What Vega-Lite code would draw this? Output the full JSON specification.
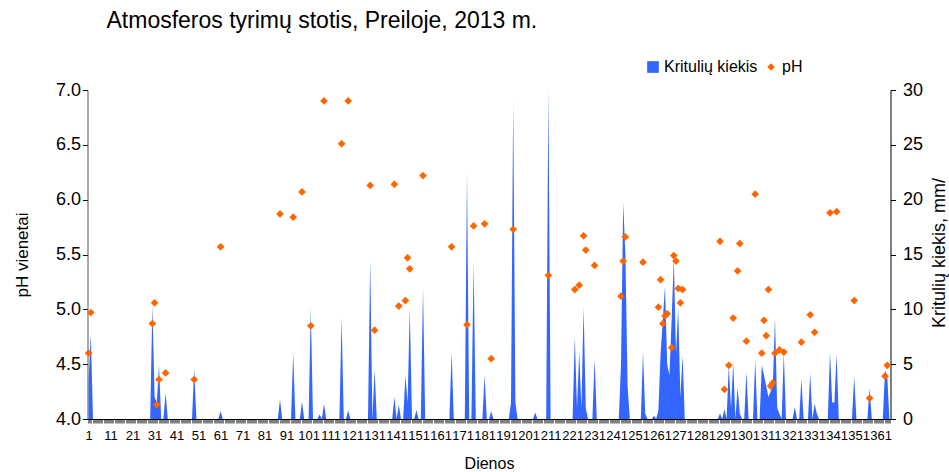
{
  "$schema": "https://vega.github.io/schema/vega-lite/v6.json",
  "width": 803,
  "height": 329,
  "autosize": {"type": "none"},
  "padding": {"left": 87.5, "top": 90, "right": 58.5, "bottom": 53},
  "background": "white",
  "title": {"text": "Atmosferos tyrimų stotis, Preiloje, 2013 m.", "anchor": "start", "frame": "group", "dx": 19, "offset": 8, "baseline": "alphabetic", "font": "Liberation Sans", "fontSize": 23, "fontWeight": "normal", "color": "black"},
  "config": {
    "view": {"stroke": null},
    "axis": {"grid": false, "labelFont": "Liberation Sans", "titleFont": "Liberation Sans", "labelColor": "black", "titleColor": "black", "titleFontWeight": "normal", "domainColor": "black", "tickColor": "black"},
    "legend": {"labelFont": "Liberation Sans", "labelFontSize": 16, "labelColor": "black", "columnPadding": 5, "labelOffset": 3, "symbolStrokeWidth": 0}
  },
  "datasets": {
    "rain": [
      {"d":1,"p":3.5},{"d":2,"p":7.7},{"d":3,"p":0},
      {"d":29,"p":0},{"d":30,"p":10.4},{"d":31,"p":2},{"d":32,"p":1.5},{"d":33,"p":4.9},{"d":34,"p":0},
      {"d":35,"p":0},{"d":36,"p":2.4},{"d":37,"p":0},
      {"d":48,"p":0},{"d":49,"p":4.6},{"d":50,"p":0},
      {"d":60,"p":0},{"d":61,"p":0.7},{"d":62,"p":0},
      {"d":87,"p":0},{"d":88,"p":1.8},{"d":89,"p":0},
      {"d":93,"p":0},{"d":94,"p":6.0},{"d":95,"p":0},
      {"d":97,"p":0},{"d":98,"p":1.6},{"d":99,"p":0},
      {"d":101,"p":0},{"d":102,"p":10.1},{"d":103,"p":0},
      {"d":105,"p":0},{"d":106,"p":0.4},{"d":107,"p":0},{"d":108,"p":1.4},{"d":109,"p":0},
      {"d":115,"p":0},{"d":116,"p":9.2},{"d":117,"p":0},
      {"d":118,"p":0},{"d":119,"p":0.8},{"d":120,"p":0},
      {"d":128,"p":0},{"d":129,"p":14.5},{"d":130,"p":0},{"d":131,"p":4.5},{"d":132,"p":0},
      {"d":139,"p":0},{"d":140,"p":2.0},{"d":141,"p":0},{"d":142,"p":1.3},{"d":143,"p":0},
      {"d":144,"p":0},{"d":145,"p":4.0},{"d":146,"p":1.5},{"d":147,"p":10.1},{"d":148,"p":0},
      {"d":149,"p":0},{"d":150,"p":0.8},{"d":151,"p":0},
      {"d":152,"p":0},{"d":153,"p":11.9},{"d":154,"p":0},
      {"d":165,"p":0},{"d":166,"p":6.1},{"d":167,"p":0},
      {"d":172,"p":0},{"d":173,"p":22.4},{"d":174,"p":0},
      {"d":175,"p":0},{"d":176,"p":14.2},{"d":177,"p":0},
      {"d":180,"p":0},{"d":181,"p":4.0},{"d":182,"p":0},
      {"d":183,"p":0},{"d":184,"p":0.7},{"d":185,"p":0},
      {"d":192,"p":0},{"d":193,"p":1.5},{"d":194,"p":28.9},{"d":195,"p":1.5},{"d":196,"p":0},
      {"d":203,"p":0},{"d":204,"p":0.6},{"d":205,"p":0},
      {"d":209,"p":0},{"d":210,"p":30},{"d":211,"p":0},
      {"d":221,"p":0},{"d":222,"p":7.5},{"d":223,"p":1},{"d":224,"p":6.1},{"d":225,"p":1},{"d":226,"p":10.2},{"d":227,"p":1},{"d":228,"p":0},
      {"d":230,"p":0},{"d":231,"p":5.5},{"d":232,"p":0},
      {"d":242,"p":0},{"d":243,"p":5},{"d":244,"p":19.7},{"d":245,"p":15},{"d":246,"p":3},{"d":247,"p":0},
      {"d":252,"p":0},{"d":253,"p":6.1},{"d":254,"p":0.5},{"d":255,"p":0},
      {"d":257,"p":0},{"d":258,"p":0.3},{"d":259,"p":0},{"d":260,"p":0.8},{"d":261,"p":6},{"d":262,"p":9},{"d":263,"p":12.1},{"d":264,"p":5},{"d":265,"p":4},{"d":266,"p":9},{"d":267,"p":14.6},{"d":268,"p":6},{"d":269,"p":10.1},{"d":270,"p":2},{"d":271,"p":5.8},{"d":272,"p":0},
      {"d":287,"p":0},{"d":288,"p":0.5},{"d":289,"p":0},{"d":290,"p":0.9},{"d":291,"p":0},{"d":292,"p":4.9},{"d":293,"p":1},{"d":294,"p":5.1},{"d":295,"p":0},{"d":296,"p":2.9},{"d":297,"p":0.5},{"d":298,"p":0},
      {"d":299,"p":0},{"d":300,"p":4.3},{"d":301,"p":0},
      {"d":303,"p":0},{"d":304,"p":5.4},{"d":305,"p":0},
      {"d":306,"p":0},{"d":307,"p":4.9},{"d":308,"p":4.0},{"d":309,"p":3.0},{"d":310,"p":2.0},{"d":311,"p":2.5},{"d":312,"p":3.0},{"d":313,"p":9.2},{"d":314,"p":1.0},{"d":315,"p":0.5},{"d":316,"p":0},{"d":317,"p":6.0},{"d":318,"p":0},
      {"d":321,"p":0},{"d":322,"p":1.1},{"d":323,"p":0},
      {"d":324,"p":0},{"d":325,"p":3.7},{"d":326,"p":0},
      {"d":328,"p":0},{"d":329,"p":4.2},{"d":330,"p":0},{"d":331,"p":1.4},{"d":332,"p":0.5},{"d":333,"p":0},
      {"d":337,"p":0},{"d":338,"p":6.1},{"d":339,"p":1.5},{"d":340,"p":1.5},{"d":341,"p":5.9},{"d":342,"p":0},
      {"d":348,"p":0},{"d":349,"p":3.9},{"d":350,"p":0},
      {"d":355,"p":0},{"d":356,"p":2.8},{"d":357,"p":0},
      {"d":362,"p":0},{"d":363,"p":4.4},{"d":364,"p":4.0},{"d":365,"p":0}
    ],
    "ph": [
      {"d":1,"ph":4.60},{"d":2,"ph":4.97},{"d":30,"ph":4.87},{"d":31,"ph":5.06},{"d":32,"ph":4.13},{"d":33,"ph":4.36},{"d":36,"ph":4.42},{"d":49,"ph":4.36},{"d":61,"ph":5.57},{"d":88,"ph":5.87},{"d":94,"ph":5.84},{"d":98,"ph":6.07},{"d":102,"ph":4.85},{"d":108,"ph":6.90},{"d":116,"ph":6.51},{"d":119,"ph":6.90},{"d":129,"ph":6.13},{"d":131,"ph":4.81},{"d":140,"ph":6.14},{"d":142,"ph":5.03},{"d":145,"ph":5.08},{"d":146,"ph":5.47},{"d":147,"ph":5.37},{"d":153,"ph":6.22},{"d":166,"ph":5.57},{"d":173,"ph":4.86},{"d":176,"ph":5.76},{"d":181,"ph":5.78},{"d":184,"ph":4.55},{"d":194,"ph":5.73},{"d":210,"ph":5.31},{"d":222,"ph":5.18},{"d":224,"ph":5.22},{"d":226,"ph":5.67},{"d":227,"ph":5.54},{"d":231,"ph":5.40},{"d":243,"ph":5.12},{"d":244,"ph":5.44},{"d":245,"ph":5.66},{"d":253,"ph":5.43},{"d":260,"ph":5.02},{"d":261,"ph":5.27},{"d":262,"ph":4.87},{"d":263,"ph":4.94},{"d":264,"ph":4.96},{"d":266,"ph":4.65},{"d":267,"ph":5.49},{"d":268,"ph":5.44},{"d":269,"ph":5.19},{"d":270,"ph":5.06},{"d":271,"ph":5.18},{"d":288,"ph":5.62},{"d":290,"ph":4.27},{"d":292,"ph":4.49},{"d":294,"ph":4.92},{"d":296,"ph":5.35},{"d":297,"ph":5.60},{"d":300,"ph":4.71},{"d":304,"ph":6.05},{"d":307,"ph":4.60},{"d":308,"ph":4.90},{"d":309,"ph":4.76},{"d":310,"ph":5.18},{"d":311,"ph":4.30},{"d":312,"ph":4.33},{"d":313,"ph":4.60},{"d":315,"ph":4.63},{"d":317,"ph":4.61},{"d":325,"ph":4.70},{"d":329,"ph":4.95},{"d":331,"ph":4.79},{"d":338,"ph":5.88},{"d":341,"ph":5.89},{"d":349,"ph":5.08},{"d":356,"ph":4.19},{"d":363,"ph":4.39},{"d":364,"ph":4.49}
    ]
  },
  "encoding": {
    "x": {"field": "d", "type": "quantitative", "scale": {"domain": [0.5, 365.5], "nice": false, "zero": false},
      "axis": {"tickCount": 365, "labelExpr": "(datum.value - 1) % 10 == 0 ? datum.label : ''", "labelOverlap": false, "labelFlush": false, "labelFontSize": 13, "tickSize": 4, "labelPadding": 6, "title": "Dienos", "titleFontSize": 16, "titleBaseline": "alphabetic", "titleY": 49, "titleX": 401.5}}
  },
  "layer": [
    {
      "data": {"name": "rain"},
      "mark": {"type": "area", "color": "#3366FF", "interpolate": "linear"},
      "encoding": {
        "y": {"field": "p", "type": "quantitative", "scale": {"domain": [0, 30], "nice": false},
          "axis": {"orient": "right", "values": [0, 5, 10, 15, 20, 25, 30], "labelFontSize": 18, "tickSize": 5, "labelPadding": 7, "title": "Kritulių kiekis, mm/", "titleFontSize": 18, "titleAngle": 270, "titleX": 54, "titleY": 162.5, "titleBaseline": "alphabetic", "titleAlign": "center"}},
        "color": {"datum": "Kritulių kiekis", "scale": {"domain": ["Kritulių kiekis", "pH"], "range": ["#3366FF", "#FF6600"]},
          "legend": {"title": null, "orient": "none", "legendX": 557.5, "legendY": -31, "direction": "horizontal", "encode": {"symbols": {"update": {"size": {"signal": "datum.value === 'pH' ? 60 : 137"}}}}}}
      }
    },
    {
      "data": {"name": "ph"},
      "mark": {"type": "point", "filled": true, "size": 60, "opacity": 1},
      "encoding": {
        "y": {"field": "ph", "type": "quantitative", "scale": {"domain": [4, 7], "nice": false, "zero": false},
          "axis": {"orient": "left", "values": [4, 4.5, 5, 5.5, 6, 6.5, 7], "format": ".1f", "labelFontSize": 18, "tickSize": 5, "labelPadding": 2, "title": "pH vienetai", "titleFontSize": 17, "titleAngle": 270, "titleX": -60.5, "titleY": 164.5, "titleBaseline": "alphabetic", "titleAlign": "center", "domainColor": "#555555"}},
        "color": {"datum": "pH"},
        "shape": {"datum": "pH", "scale": {"domain": ["Kritulių kiekis", "pH"], "range": ["square", "diamond"]},
          "legend": {"title": null, "orient": "none", "legendX": 557.5, "legendY": -31, "direction": "horizontal"}}
      }
    }
  ],
  "resolve": {"scale": {"y": "independent"}}
}
